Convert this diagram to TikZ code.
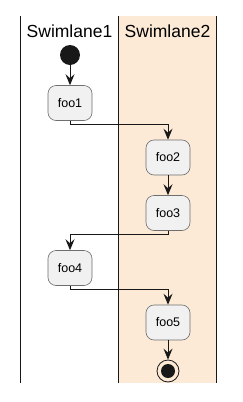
\documentclass[tikz,border=0pt]{standalone}
\usepackage{fontspec}
\setmainfont{Liberation Sans}
\usetikzlibrary{arrows.meta,positioning}
\definecolor{slInk}{HTML}{181818}
\definecolor{slBorder}{HTML}{6E6E6E}
\definecolor{slBox}{HTML}{F1F1F1}
\definecolor{slLane}{HTML}{FCEAD6}
\tikzset{
  sl lane/.style={draw=slInk, line width=1.5pt},
  sl title/.style={font=\fontsize{17.5}{20}\selectfont, text=black},
  sl action/.style={
    draw=slBorder,
    fill=slBox,
    line width=.6pt,
    rounded corners=8pt,
    minimum width=44pt,
    minimum height=35pt,
    inner sep=0pt,
    font=\fontsize{12.5}{14}\selectfont
  },
  sl start/.style={circle, fill=slInk, minimum size=20pt, inner sep=0pt},
  sl stop/.style={circle, draw=slInk, line width=.8pt, minimum size=22pt, inner sep=0pt},
  sl flow/.style={
    draw=slInk,
    line width=.9pt,
    -{Stealth[length=11pt,width=9pt,inset=4pt]}
  }
}

\begin{document}
\begin{tikzpicture}[x=1pt,y=-1pt]
  \useasboundingbox (0,0) rectangle (243,402);
  \fill[slLane] (118.5,16) rectangle (216.5,383);
  \draw[sl lane] (20.5,16) -- (20.5,383);
  \draw[sl lane] (118.5,16) -- (118.5,383);
  \draw[sl lane] (216.5,16) -- (216.5,383);
  \node[sl title] (lane1) at (69.5,31) {Swimlane1};
  \node[sl title] (lane2) at (167.5,31) {Swimlane2};

  \node[sl start] (start) at (70,55) {};
  \node[sl action] (foo1) at (70,103) {foo1};
  \node[sl action] (foo2) at (168,157.5) {foo2};
  \node[sl action] (foo3) at (168,213) {foo3};
  \node[sl action] (foo4) at (70,268) {foo4};
  \node[sl action] (foo5) at (168,322.5) {foo5};
  \node[sl stop] (stop) at (168,371) {};
  \fill[slInk] (stop.center) circle (7pt);

  \draw[sl flow] (start) -- (foo1);
  \draw[sl flow] (foo1.south) -- ++(0,4) -| (foo2.north);
  \draw[sl flow] (foo2) -- (foo3);
  \draw[sl flow] (foo3.south) -- ++(0,4) -| (foo4.north);
  \draw[sl flow] (foo4.south) -- ++(0,4) -| (foo5.north);
  \draw[sl flow] (foo5) -- (stop);
\end{tikzpicture}
\end{document}
